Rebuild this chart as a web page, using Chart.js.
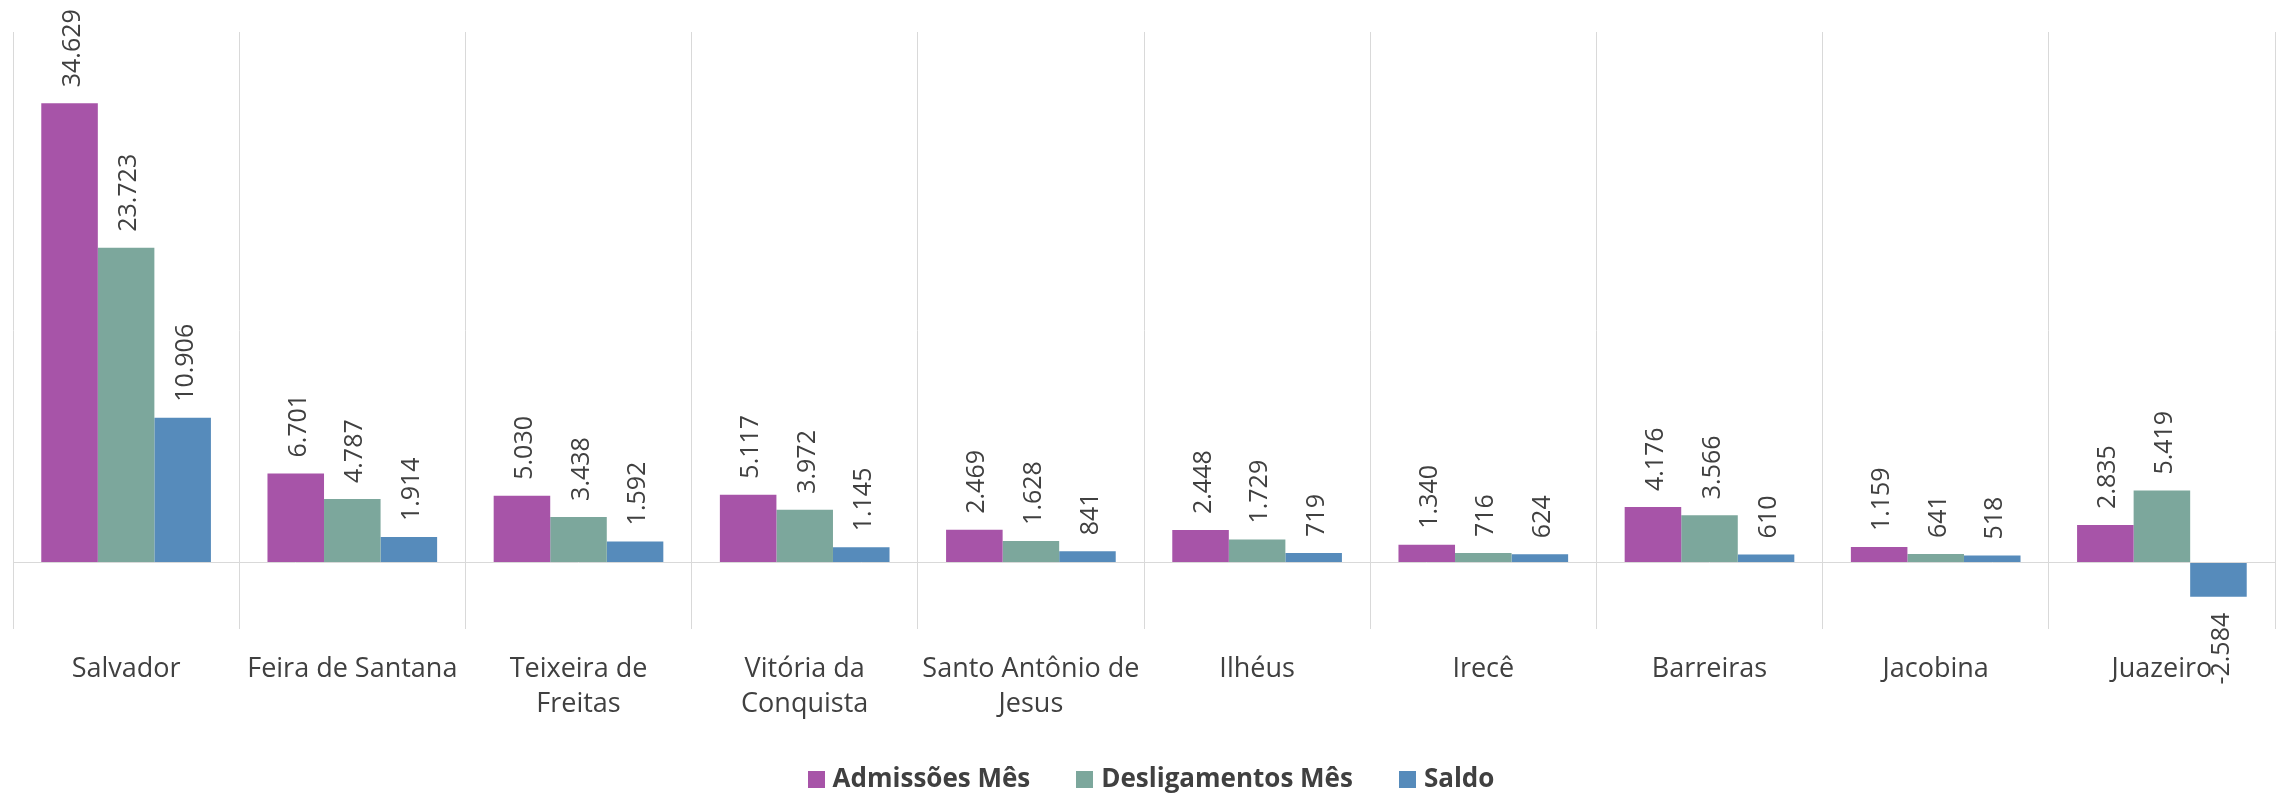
<!DOCTYPE html>
<html>
<head>
<meta charset="utf-8">
<script src="https://cdn.jsdelivr.net/npm/chart.js@4.4.1/dist/chart.umd.min.js"></script>
<style>
  html, body { margin: 0; padding: 0; background: #ffffff; }
  #wrap { width: 2276px; height: 797px; position: relative; }
</style>
</head>
<body>
<div id="wrap"><canvas id="c" width="2276" height="797"></canvas></div>
<script>
const categories = [
  "Salvador",
  "Feira de Santana",
  ["Teixeira de", "Freitas"],
  ["Vitória da", "Conquista"],
  ["Santo Antônio de", "Jesus"],
  "Ilhéus",
  "Irecê",
  "Barreiras",
  "Jacobina",
  "Juazeiro"
];
const admissoes = [34629, 6701, 5030, 5117, 2469, 2448, 1340, 4176, 1159, 2835];
const desligamentos = [23723, 4787, 3438, 3972, 1628, 1729, 716, 3566, 641, 5419];
const saldo = [10906, 1914, 1592, 1145, 841, 719, 624, 610, 518, -2584];
const seriesNames = ["Admissões Mês", "Desligamentos Mês", "Saldo"];
const seriesColors = ["#A754A8", "#7CA79C", "#568BBB"];

const TEXT = "#404040";
const FONT = "'Open Sans', 'Noto Sans', sans-serif";

function fmt(v) {
  const s = Math.abs(v).toString().replace(/\B(?=(\d{3})+(?!\d))/g, ".");
  return (v < 0 ? "-" : "") + s;
}

const labelPlugin = {
  id: "barLabels",
  afterDatasetsDraw(chart) {
    const ctx = chart.ctx;
    ctx.save();
    ctx.font = "25px " + FONT;
    ctx.fillStyle = TEXT;
    ctx.textBaseline = "middle";
    chart.data.datasets.forEach((ds, di) => {
      const meta = chart.getDatasetMeta(di);
      meta.data.forEach((el, i) => {
        const v = ds.data[i];
        const gap = 16;
        ctx.save();
        if (v >= 0) {
          ctx.translate(el.x + 3, el.y - gap);
          ctx.rotate(-Math.PI / 2);
          ctx.textAlign = "left";
        } else {
          ctx.translate(el.x + 3, el.y + gap);
          ctx.rotate(-Math.PI / 2);
          ctx.textAlign = "right";
        }
        ctx.fillText(fmt(v), 0, 0);
        ctx.restore();
      });
    });
    ctx.restore();
  }
};

const legendPlugin = {
  id: "customLegend",
  afterDraw(chart) {
    const ctx = chart.ctx;
    const ds = chart.data.datasets;
    const box = 17, gapText = 8, gapItem = 46;
    ctx.save();
    ctx.font = "bold 26px " + FONT;
    const widths = ds.map(d => ctx.measureText(d.label).width);
    let total = 0;
    widths.forEach((w, i) => { total += box + gapText + w + (i < widths.length - 1 ? gapItem : 0); });
    const ca = chart.chartArea;
    const cx = (ca.left + ca.right) / 2 + 7;
    const cy = chart.height - 18;
    let x = cx - total / 2;
    ctx.textBaseline = "middle";
    ctx.textAlign = "left";
    ds.forEach((d, i) => {
      ctx.fillStyle = d.backgroundColor;
      ctx.fillRect(Math.round(x), Math.round(cy - box / 2), box, box);
      ctx.fillStyle = TEXT;
      ctx.fillText(d.label, x + box + gapText, cy + 1);
      x += box + gapText + widths[i] + gapItem;
    });
    ctx.restore();
  }
};

const datasets = [admissoes, desligamentos, saldo].map((d, i) => ({
  label: seriesNames[i],
  data: d,
  backgroundColor: seriesColors[i],
  borderWidth: 0,
  categoryPercentage: 0.75,
  barPercentage: 1.0
}));

new Chart(document.getElementById("c"), {
  type: "bar",
  data: { labels: categories, datasets: datasets },
  plugins: [labelPlugin, legendPlugin],
  options: {
    responsive: false,
    animation: false,
    devicePixelRatio: 1,
    layout: { padding: { left: 13, right: 1, top: 32, bottom: 52 } },
    scales: {
      x: {
        offset: true,
        grid: { offset: true, color: "#D9D9D9", lineWidth: 1, drawTicks: false },
        border: { display: false },
        ticks: {
          color: TEXT,
          font: { family: FONT, size: 27, lineHeight: 1.3 },
          padding: 23,
          maxRotation: 0,
          autoSkip: false
        }
      },
      y: {
        display: true,
        min: -5000,
        max: 40000,
        ticks: { display: false, stepSize: 5000 },
        border: { display: false },
        grid: {
          drawTicks: false,
          color: (c) => (c.tick && c.tick.value === 0 ? "#D9D9D9" : "rgba(0,0,0,0)"),
          lineWidth: 1
        }
      }
    },
    plugins: {
      legend: { display: false },
      tooltip: { enabled: false }
    }
  }
});
</script>
</body>
</html>
